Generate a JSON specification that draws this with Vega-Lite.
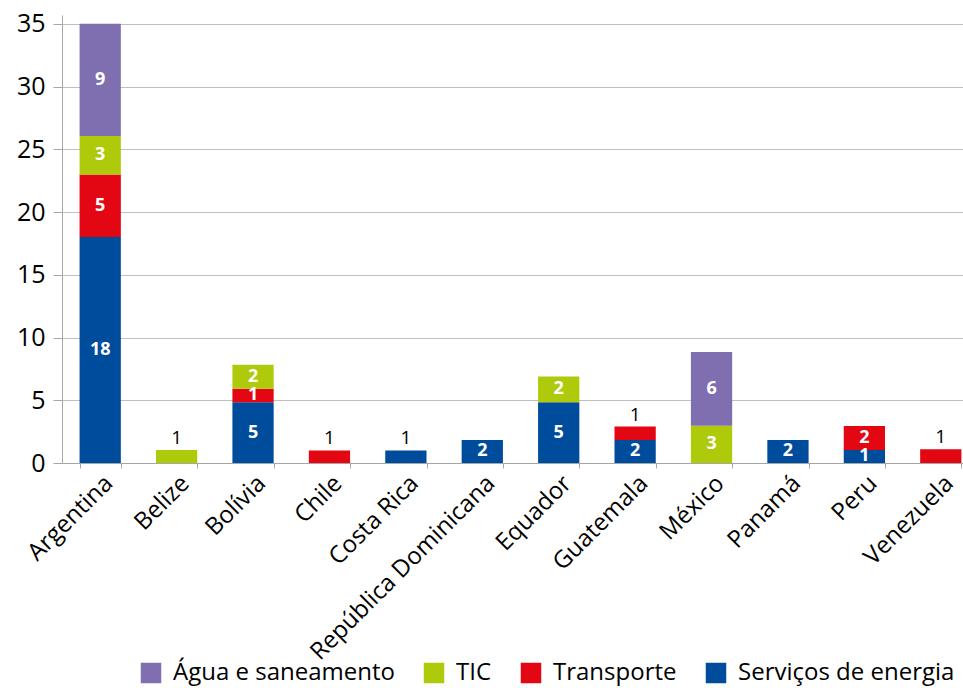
{
  "$schema": "https://vega.github.io/schema/vega-lite/v6.json",
  "width": 901,
  "height": 448,
  "autosize": {"type": "none"},
  "padding": {"left": 62, "top": 15, "right": 0, "bottom": 225},
  "background": "white",
  "config": {
    "view": {"stroke": null},
    "font": "Open Sans",
    "text": {"font": "Open Sans"}
  },
  "data": {
    "values": [
      {"pais": "Argentina", "tipo": "Serviços de energia", "valor": 18},
      {"pais": "Argentina", "tipo": "Transporte", "valor": 4.98},
      {"pais": "Argentina", "tipo": "TIC", "valor": 3.08},
      {"pais": "Argentina", "tipo": "Água e saneamento", "valor": 8.94},
      {"pais": "Belize", "tipo": "TIC", "valor": 1.03},
      {"pais": "Bolívia", "tipo": "Serviços de energia", "valor": 4.85},
      {"pais": "Bolívia", "tipo": "Transporte", "valor": 1.07},
      {"pais": "Bolívia", "tipo": "TIC", "valor": 1.9},
      {"pais": "Chile", "tipo": "Transporte", "valor": 1.0},
      {"pais": "Costa Rica", "tipo": "Serviços de energia", "valor": 1.0},
      {"pais": "República Dominicana", "tipo": "Serviços de energia", "valor": 1.84},
      {"pais": "Equador", "tipo": "Serviços de energia", "valor": 4.85},
      {"pais": "Equador", "tipo": "TIC", "valor": 2.05},
      {"pais": "Guatemala", "tipo": "Serviços de energia", "valor": 1.84},
      {"pais": "Guatemala", "tipo": "Transporte", "valor": 1.06},
      {"pais": "México", "tipo": "TIC", "valor": 2.97},
      {"pais": "México", "tipo": "Água e saneamento", "valor": 5.88},
      {"pais": "Panamá", "tipo": "Serviços de energia", "valor": 1.84},
      {"pais": "Peru", "tipo": "Serviços de energia", "valor": 1.04},
      {"pais": "Peru", "tipo": "Transporte", "valor": 1.91},
      {"pais": "Venezuela", "tipo": "Transporte", "valor": 1.1}
    ]
  },
  "transform": [
    {"calculate": "indexof(['Serviços de energia','Transporte','TIC','Água e saneamento'], datum.tipo)", "as": "ordem"},
    {"stack": "valor", "groupby": ["pais"], "sort": [{"field": "ordem", "order": "ascending"}], "as": ["v0", "v1"]},
    {"joinaggregate": [{"op": "max", "field": "v1", "as": "topo"}], "groupby": ["pais"]},
    {"calculate": "(datum.v0 + datum.v1) / 2", "as": "meio"},
    {"calculate": "datum.v1 == datum.topo && datum.valor < 1.5", "as": "fora"}
  ],
  "layer": [
    {
      "mark": {"type": "bar"},
      "encoding": {
        "x": {
          "field": "pais",
          "type": "nominal",
          "sort": null,
          "scale": {"range": [0, 917], "paddingInner": 0.46, "paddingOuter": 0.23},
          "axis": {
            "title": null,
            "labelAngle": -45,
            "labelFontSize": 24,
            "labelColor": "black",
            "labelPadding": 3,
            "tickBand": "extent",
            "tickSize": 5,
            "tickColor": "#A6A6A6",
            "domainColor": "#A6A6A6",
            "grid": false,
            "labelLimit": 400
          }
        },
        "y": {
          "field": "v0",
          "type": "quantitative",
          "scale": {"domain": [0, 35.7], "nice": false},
          "axis": {
            "title": null,
            "values": [0, 5, 10, 15, 20, 25, 30, 35],
            "labelFontSize": 25,
            "labelColor": "black",
            "labelPadding": 8,
            "tickSize": 9,
            "tickColor": "#A6A6A6",
            "domainColor": "#A6A6A6",
            "gridColor": "#BFBFBF",
            "grid": true
          }
        },
        "y2": {"field": "v1"},
        "color": {
          "field": "tipo",
          "type": "nominal",
          "sort": ["Água e saneamento", "TIC", "Transporte", "Serviços de energia"],
          "scale": {
            "domain": ["Água e saneamento", "TIC", "Transporte", "Serviços de energia"],
            "range": ["#7F6FB1", "#AFCA0B", "#E30613", "#004C9C"]
          },
          "legend": {
            "title": null,
            "orient": "none",
            "legendX": 77,
            "legendY": 646,
            "direction": "horizontal",
            "symbolType": "square",
            "symbolSize": 420,
            "symbolStrokeWidth": 0,
            "labelFontSize": 24,
            "labelColor": "black",
            "labelOffset": 10,
            "columnPadding": 27,
            "labelLimit": 400
          }
        }
      }
    },
    {
      "transform": [{"filter": "!datum.fora"}],
      "mark": {"type": "text", "color": "white", "fontWeight": "bold", "fontSize": 18, "baseline": "middle"},
      "encoding": {
        "x": {"field": "pais", "type": "nominal", "sort": null},
        "y": {"field": "meio", "type": "quantitative"},
        "text": {"field": "valor", "type": "quantitative", "format": ".0f"}
      }
    },
    {
      "transform": [{"filter": "datum.fora"}],
      "mark": {"type": "text", "color": "black", "fontSize": 19, "fontWeight": 500, "baseline": "bottom", "dy": -2},
      "encoding": {
        "x": {"field": "pais", "type": "nominal", "sort": null},
        "y": {"field": "v1", "type": "quantitative"},
        "text": {"field": "valor", "type": "quantitative", "format": ".0f"}
      }
    }
  ]
}
